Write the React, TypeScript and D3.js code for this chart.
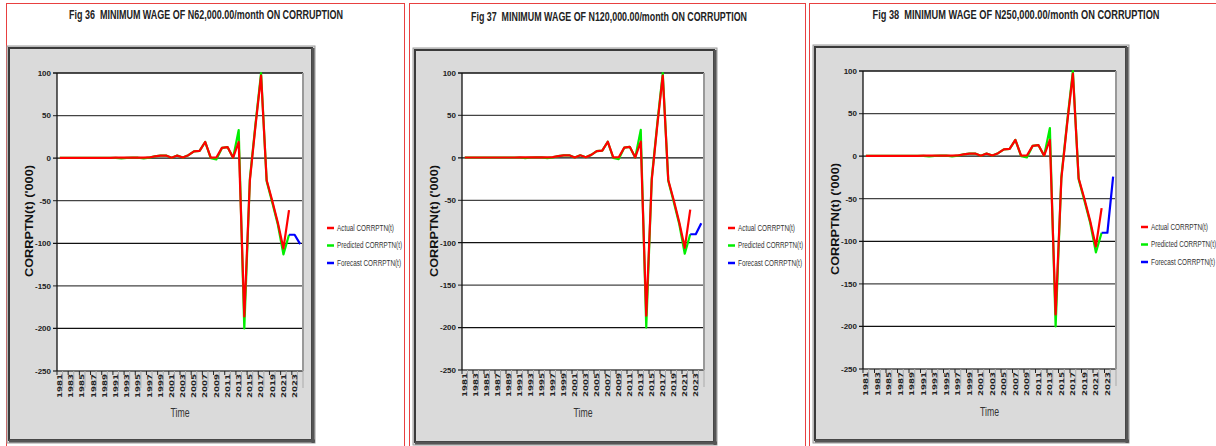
import React from 'react'
import * as d3 from 'd3'

// categories (years on the x axis)
const years = [
  1981, 1982, 1983, 1984, 1985, 1986, 1987, 1988, 1989, 1990, 1991,
  1992, 1993, 1994, 1995, 1996, 1997, 1998, 1999, 2000, 2001, 2002,
  2003, 2004, 2005, 2006, 2007, 2008, 2009, 2010, 2011, 2012, 2013,
  2014, 2015, 2016, 2017, 2018, 2019, 2020, 2021, 2022, 2023, 2024,
]
const tickYears = [
  1981, 1983, 1985, 1987, 1989, 1991, 1993, 1995, 1997, 1999, 2001,
  2003, 2005, 2007, 2009, 2011, 2013, 2015, 2017, 2019, 2021, 2023,
]
const yTicks = [100, 50, 0, -50, -100, -150, -200, -250]

// 1981..2022
const actual = [
  0.4, 0.4, 0.4, 0.4, 0.4, 0.4, 0.4, 0.4, 0.4, 0.4, 0.5,
  0.5, 0.5, 0.5, 0.6, 0.6, 0.8, 2, 3, 3, 0.5, 3,
  0.8, 3.5, 8, 8.5, 19, 0.5, 0.8, 12, 13, 0.5, 19,
  -186, -26, 38, 97, -26, -50, -76, -106, -61,
]
const predicted = [
  0.4, 0.4, 0.4, 0.4, 0.4, 0.4, 0.4, 0.4, 0.4, 0.4, 0.4,
  -0.3, 0.4, 0.5, 0.5, -0.3, 0.6, 2, 3, 3, 0.5, 3,
  0.8, 3.5, 8, 8.5, 19, 0, -1.5, 12, 13, 0.5, 33,
  -200, -24, 40, 100, -27, -52, -78, -113, -90,
]
const forecastYears = [2022, 2023, 2024]
const forecast36 = [-90, -90, -101]
const forecast37 = [-90, -90, -77]
const forecast38 = [-90, -90, -24]

const titles = [
  'Fig 36  MINIMUM WAGE OF N62,000.00/month ON CORRUPTION',
  'Fig 37  MINIMUM WAGE OF N120,000.00/month ON CORRUPTION',
  'Fig 38  MINIMUM WAGE OF N250,000.00/month ON CORRUPTION',
]
const legendLabels = ['Actual CORRPTN(t)', 'Predicted CORRPTN(t)', 'Forecast CORRPTN(t)']
const legendColors = ['#ff0000', '#00ee00', '#0000ff']

const NARROW = "'Liberation Sans Narrow', 'Arial Narrow', 'Liberation Sans', Arial, sans-serif"

interface Layout {
  frame: [number, number, number, number]
  box: [number, number, number, number]
  plot: [number, number, number, number] // left, right, top, bottom
  titleX: number
  titleY: number
  titleW: number
  legendX: number
  legendY: number
  yTitleX: number
  yTitleY: number
  timeY: number
}

const layouts: Layout[] = [
  {
    frame: [6, 3, 398, 460], box: [7, 46, 308, 397], plot: [57, 303, 73, 371],
    titleX: 206, titleY: 19, titleW: 274, legendX: 327, legendY: 228,
    yTitleX: 29, yTitleY: 221, timeY: 417,
  },
  {
    frame: [409, 3, 396, 460], box: [413, 48, 304, 397], plot: [462, 704, 73, 370],
    titleX: 609, titleY: 21, titleW: 276, legendX: 728, legendY: 228,
    yTitleX: 434, yTitleY: 221, timeY: 417,
  },
  {
    frame: [809, 3, 420, 460], box: [813, 45, 316, 398], plot: [863, 1116, 71, 369],
    titleX: 1016, titleY: 19, titleW: 287, legendX: 1141, legendY: 227,
    yTitleX: 835, yTitleY: 219, timeY: 416,
  },
]

function Panel({ L, title, forecast }: { L: Layout; title: string; forecast: number[] }) {
  const [pl, pr, pt, pb] = L.plot
  const x = d3.scalePoint<number>().domain(years).range([pl, pr]).padding(0.5)
  const y = d3.scaleLinear().domain([-250, 100]).range([pb, pt])
  const step = x.step()

  const line = d3.line<number>()
    .x((_, i) => x(years[i]) as number)
    .y((d) => y(d))
  const fline = d3.line<number>()
    .x((_, i) => x(forecastYears[i]) as number)
    .y((d) => y(d))

  const [bx, by, bw, bh] = L.box
  const [fx, fy, fw, fh] = L.frame

  return (
    <g>
      <rect x={fx + 0.5} y={fy + 0.5} width={fw} height={fh} fill="none" stroke="#e84040" strokeWidth={1} />
      <text x={L.titleX} y={L.titleY} textAnchor="middle" fontFamily={NARROW} fontWeight="bold"
        fontSize={12} fill="#222" textLength={L.titleW} lengthAdjust="spacingAndGlyphs"
        style={{ whiteSpace: 'pre' }}>{title}</text>

      {/* chart box */}
      <rect x={bx} y={by} width={bw} height={bh} fill="#dadada" stroke="#9a9a9a" strokeWidth={1} />
      <rect x={bx + 2} y={by + 2} width={bw - 5} height={bh - 5} fill="none" stroke="#3a3a3a" strokeWidth={2} />
      <line x1={bx + bw - 2} x2={bx + bw - 2} y1={by + 2} y2={by + bh} stroke="#555" strokeWidth={3} />
      <line x1={bx + 2} x2={bx + bw} y1={by + bh - 2} y2={by + bh - 2} stroke="#555" strokeWidth={3} />

      {/* plot area */}
      <rect x={pl} y={pt} width={pr - pl} height={pb - pt} fill="#ffffff" />
      {yTicks.map((t) => (
        <g key={t}>
          <line x1={pl - 4} x2={pr} y1={y(t)} y2={y(t)} stroke={t % 100 === 0 ? '#111' : '#444'} strokeWidth={1.3} />
          <text x={pl - 6} y={y(t)} dy="0.35em" textAnchor="end" fontFamily={NARROW} fontWeight="bold"
            fontSize={8} fill="#222">{t}</text>
        </g>
      ))}
      <line x1={pl} x2={pl} y1={pt} y2={pb} stroke="#111" strokeWidth={1.3} />
      <line x1={pr} x2={pr} y1={pt} y2={pb} stroke="#999" strokeWidth={2} />

      {/* x axis ticks and labels */}
      {years.map((yr) => (
        <line key={yr} x1={(x(yr) as number) - step / 2} x2={(x(yr) as number) - step / 2}
          y1={pb} y2={pb + (yr % 2 === 1 ? 4 : 17)} stroke={yr % 2 === 1 ? '#222' : '#aaa'} strokeWidth={1} />
      ))}
      <line x1={pr} x2={pr} y1={pb} y2={pb + 17} stroke="#aaa" strokeWidth={1} />
      {tickYears.map((yr) => (
        <text key={yr} transform={`translate(${x(yr)},${pb + 3}) rotate(-90)`} dy="0.35em" textAnchor="end"
          fontFamily="'DejaVu Sans', sans-serif" fontWeight="bold" fontSize={6.5} fill="#222"
          textLength={24} lengthAdjust="spacingAndGlyphs">{yr}</text>
      ))}

      {/* series */}
      <path d={line(predicted) ?? ''} fill="none" stroke="#00ee00" strokeWidth={2.2} strokeLinejoin="round" />
      <path d={line(actual) ?? ''} fill="none" stroke="#ff0000" strokeWidth={2.2} strokeLinejoin="round" />
      <path d={fline(forecast) ?? ''} fill="none" stroke="#0000ff" strokeWidth={2.2} strokeLinejoin="round" />

      {/* axis titles */}
      <text transform={`translate(${L.yTitleX},${L.yTitleY}) rotate(-90)`} dy="0.35em" textAnchor="middle"
        fontFamily="'Liberation Sans', Arial, sans-serif" fontWeight="bold" fontSize={11} fill="#111"
        textLength={112} lengthAdjust="spacingAndGlyphs">CORRPTN(t) ('000)</text>
      <text x={(pl + pr) / 2} y={L.timeY} textAnchor="middle" fontFamily={NARROW} fontSize={12} fill="#333"
        textLength={19} lengthAdjust="spacingAndGlyphs">Time</text>

      {/* legend */}
      {legendLabels.map((lab, i) => (
        <g key={lab}>
          <line x1={L.legendX} x2={L.legendX + 7} y1={L.legendY + i * 17.5} y2={L.legendY + i * 17.5}
            stroke={legendColors[i]} strokeWidth={2.5} />
          <text x={L.legendX + 10} y={L.legendY + i * 17.5} dy="0.35em" fontFamily={NARROW} fontSize={8.5}
            fill="#333" textLength={[57, 65, 64][i]} lengthAdjust="spacingAndGlyphs">{lab}</text>
        </g>
      ))}
    </g>
  )
}

export default function App() {
  const forecasts = [forecast36, forecast37, forecast38]
  return (
    <svg width={1216} height={446} style={{ position: 'absolute', left: 0, top: 0, background: '#fff' }}>
      {layouts.map((L, i) => (
        <Panel key={i} L={L} title={titles[i]} forecast={forecasts[i]} />
      ))}
    </svg>
  )
}
